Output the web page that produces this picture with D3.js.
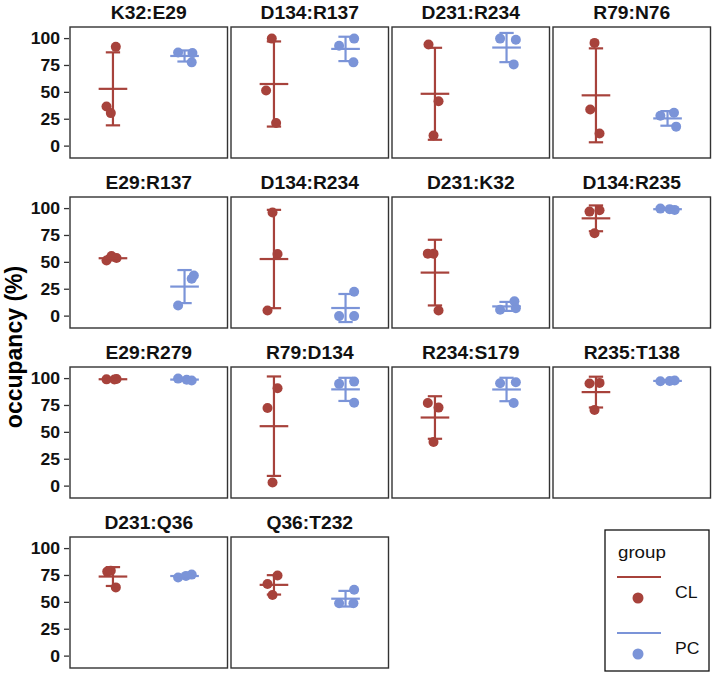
<!DOCTYPE html>
<html><head><meta charset="utf-8">
<script src="https://cdn.jsdelivr.net/npm/d3@7"></script>
<style>
body{margin:0;background:#fff;}
text{font-family:"Liberation Sans",Arial,Helvetica,sans-serif;}
</style></head>
<body><svg id="chart" width="714" height="674"></svg>
<script>
const panels = ["K32:E29","D134:R137","D231:R234","R79:N76",
  "E29:R137","D134:R234","D231:K32","D134:R235",
  "E29:R279","R79:D134","R234:S179","R235:T138",
  "D231:Q36","Q36:T232"];
const groups = ["CL","PC"];
const groupColors = ["#A7423B","#7B94D8"];
const clValues = [
  [92.3,36.8,30.7],[100,51.8,21.5],[94.5,41.7,9.8],[96,34,11.7],
  [51.7,55.8,54],[96.3,57.8,5.2],[58.1,58.1,5.2],[97.2,98.5,77.1],
  [99.3,99.7,99.2],[91.1,72.7,3.4],[77.3,73,41.1],[95.4,96,70.9],
  [78.6,79.5,63.9],[67,74.9,56.9]];
const pcValues = [
  [87.1,86.5,77.9],[93.3,100,77.9],[100,99,76],[28.2,31,18.1],
  [9.8,34.8,37.8],[22.6,0,0],[6,13.8,7.3],[100,98.8,99.5],
  [100,98.2,99],[95.1,97.2,77.6],[95.7,96.6,77.3],[97.5,98.2,97.8],
  [73.1,75.8,74.6],[49.2,61.8,49.2]];
// horizontal jitter of each point, in category units
const clJitter = [
  [0.04,-0.09,-0.03],[-0.03,-0.11,0.03],[-0.09,0.05,-0.02],[-0.02,-0.08,0.05],
  [-0.09,-0.02,0.05],[-0.02,0.05,-0.09],[-0.10,-0.02,0.05],[-0.09,0.05,-0.02],
  [-0.09,0.05,0.02],[0.05,-0.09,-0.02],[-0.10,0.05,-0.02],[-0.09,0.05,-0.02],
  [-0.08,-0.03,0.04],[-0.09,0.05,-0.02]];
const pcJitter = [
  [-0.09,0.11,0.10],[-0.09,0.12,0.11],[-0.09,0.13,0.10],[-0.10,0.09,0.12],
  [-0.09,0.10,0.13],[0.12,-0.09,0.12],[-0.09,0.11,0.13],[-0.10,0.10,0.03],
  [-0.09,0.10,0.03],[-0.09,0.12,0.12],[-0.09,0.13,0.10],[-0.10,0.10,0.03],
  [-0.09,0.10,0.02],[-0.09,0.12,0.11]];
const yTicks = [0,25,50,75,100];
const yLabel = "occupancy (%)";
const legendTitle = "group";

const svg = d3.select("#chart");
const SX = 1.1; // horizontal text stretch seen in the picture
const ncol = 4, panelW = 157.5, panelH = 131, colStep = 161, rowStep = 170;
const left0 = 70, top0 = 27;

function stats(v){ const m = d3.mean(v), s = d3.deviation(v); return {m, lo:m-s, hi:m+s}; }
const allStats = panels.flatMap((p,i)=>[stats(clValues[i]), stats(pcValues[i])]);
const ymin = d3.min(allStats, d=>Math.min(d.lo, 0)), ymax = d3.max(allStats, d=>Math.max(d.hi, 100));
const pad = (ymax - ymin) * 0.05;
const y = d3.scaleLinear().domain([ymin - pad, ymax + pad]).range([panelH, 0]);
const x = d3.scaleLinear().domain([0.4, 2.6]).range([0, panelW]);

panels.forEach((name, i) => {
  const r = Math.floor(i / ncol), c = i % ncol;
  const g = svg.append("g").attr("transform", `translate(${left0 + c*colStep},${top0 + r*rowStep})`);
  g.append("text").attr("transform", `translate(${panelW/2},-8) scale(${SX},1)`)
    .attr("text-anchor","middle").attr("font-weight","bold").attr("font-size",17.5).attr("fill","#111").text(name);
  [clValues[i], pcValues[i]].forEach((vals, k) => {
    const jit = k === 0 ? clJitter[i] : pcJitter[i];
    const col = groupColors[k], cx = k + 1, st = stats(vals);
    g.selectAll(null).data(vals).enter().append("circle")
      .attr("cx", (d,j)=>x(cx + jit[j])).attr("cy", d=>y(d)).attr("r", 5).attr("fill", col);
    const lines = [
      [cx, st.lo, cx, st.hi],
      [cx-0.1, st.lo, cx+0.1, st.lo],
      [cx-0.1, st.hi, cx+0.1, st.hi],
      [cx-0.2, st.m, cx+0.2, st.m]];
    g.selectAll(null).data(lines).enter().append("line")
      .attr("x1", d=>x(d[0])).attr("y1", d=>y(d[1])).attr("x2", d=>x(d[2])).attr("y2", d=>y(d[3]))
      .attr("stroke", col).attr("stroke-width", 2.2);
  });
  g.append("rect").attr("width", panelW).attr("height", panelH)
    .attr("fill","none").attr("stroke","#333").attr("stroke-width",1.4);
  if (c === 0) {
    const ax = g.append("g");
    yTicks.forEach(t => {
      ax.append("line").attr("x1",-6).attr("x2",-1).attr("y1",y(t)).attr("y2",y(t)).attr("stroke","#333").attr("stroke-width",1.3);
      ax.append("text").attr("transform",`translate(-10,${y(t)}) scale(${SX},1)`)
        .attr("dy","0.36em").attr("text-anchor","end").attr("font-weight","bold").attr("font-size",16).attr("fill","#111").text(t);
    });
  }
});

svg.append("text").attr("transform","translate(22,347) rotate(-90)")
  .attr("text-anchor","middle").attr("font-weight","bold").attr("font-size",23).attr("fill","#000").text(yLabel);

// legend
const lg = svg.append("g").attr("transform","translate(605,530)");
lg.append("rect").attr("width",104).attr("height",141).attr("fill","#fff").attr("stroke","#111").attr("stroke-width",1.3);
lg.append("text").attr("transform",`translate(13,28) scale(${SX},1)`).attr("font-size",17).attr("fill","#111").text(legendTitle);
groups.forEach((gname,k)=>{
  const oy = 47 + k*56;
  lg.append("line").attr("x1",12).attr("x2",56).attr("y1",oy).attr("y2",oy).attr("stroke",groupColors[k]).attr("stroke-width",2.2);
  lg.append("circle").attr("cx",33).attr("cy",oy+21).attr("r",5.5).attr("fill",groupColors[k]);
  lg.append("text").attr("transform",`translate(70,${oy+21}) scale(${SX},1)`).attr("font-size",16).attr("fill","#111").text(gname);
});
</script></body></html>
